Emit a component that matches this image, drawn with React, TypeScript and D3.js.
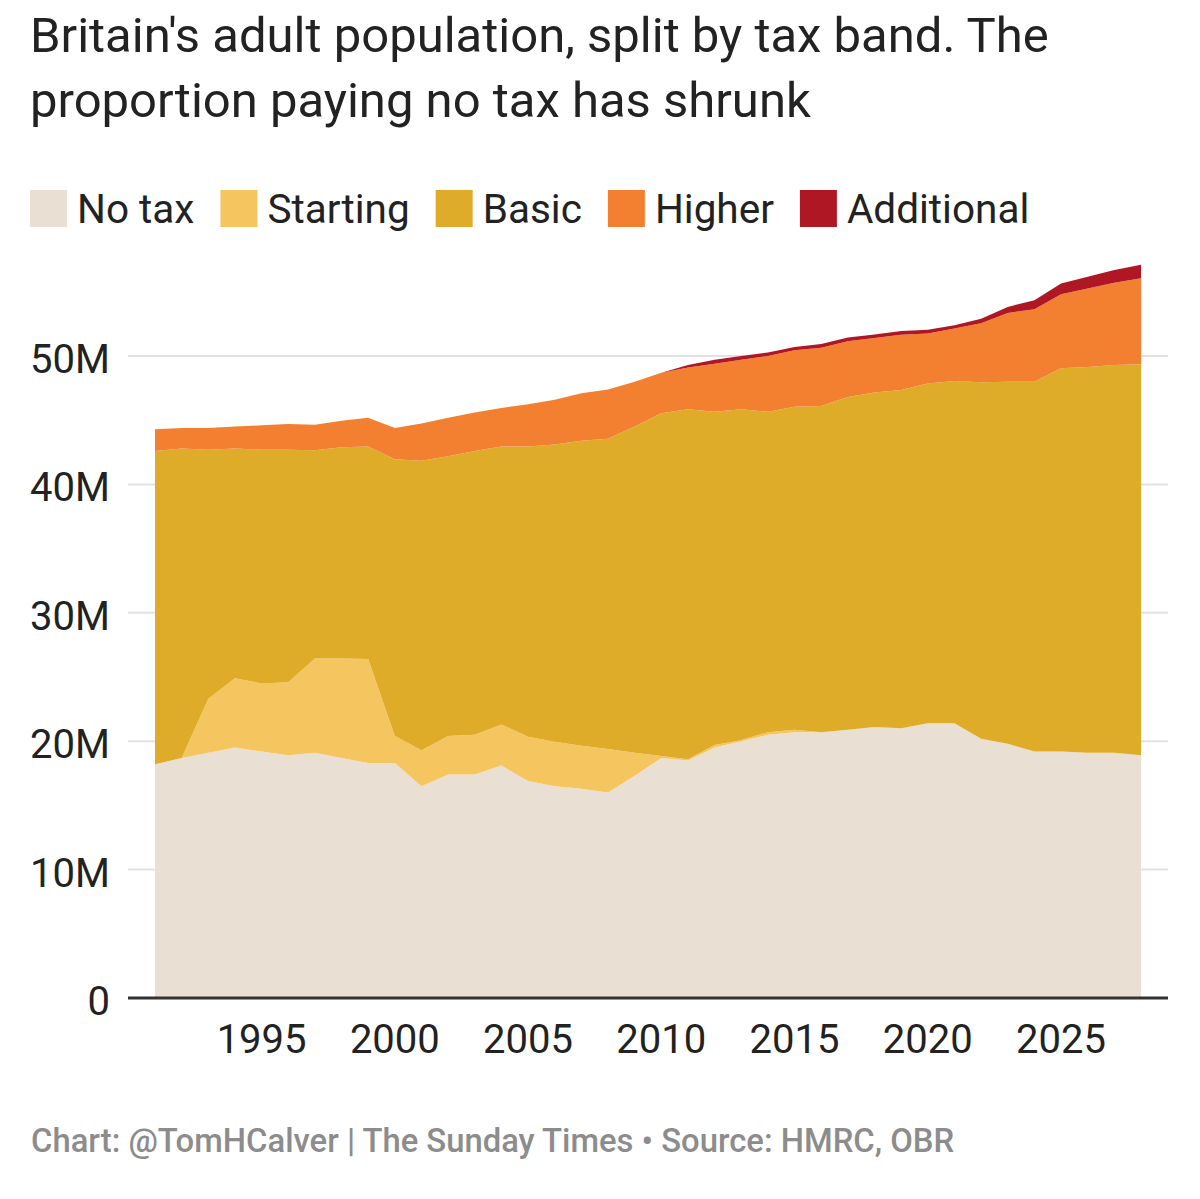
import * as d3 from 'd3';
import React, { useEffect, useRef } from 'react';

// Adult population by tax band, millions
const years = [
  1991, 1992, 1993, 1994, 1995, 1996, 1997, 1998, 1999, 2000, 2001, 2002, 2003, 2004, 2005, 2006,
  2007, 2008, 2009, 2010, 2011, 2012, 2013, 2014, 2015, 2016, 2017, 2018, 2019, 2020, 2021, 2022,
  2023, 2024, 2025, 2026, 2027, 2028,
];

const noTax = [
  18.2, 18.7, 19.1, 19.5, 19.2, 18.9, 19.1, 18.7, 18.3, 18.3, 16.5, 17.4, 17.4, 18.1, 16.9, 16.5,
  16.3, 16.0, 17.3, 18.7, 18.5, 19.5, 20.0, 20.5, 20.7, 20.7, 20.9, 21.1, 21.0, 21.4, 21.4, 20.2,
  19.8, 19.2, 19.2, 19.1, 19.1, 18.9,
];

const starting = [
  0, 0, 4.2, 5.4, 5.3, 5.7, 7.35, 7.75, 8.1, 2.1, 2.8, 3.0, 3.1, 3.2, 3.45, 3.45, 3.35, 3.4, 1.8,
  0.15, 0.1, 0.2, 0.1, 0.2, 0.2, 0, 0, 0, 0, 0, 0, 0, 0, 0, 0, 0, 0, 0,
];

const basic = [
  24.4, 24.1, 19.4, 17.9, 18.2, 18.1, 16.2, 16.45, 16.55, 21.55, 22.55, 21.8, 22.1, 21.65, 22.6,
  23.15, 23.75, 24.15, 25.4, 26.7, 27.25, 25.95, 25.75, 24.95, 25.15, 25.4, 25.9, 26.05, 26.35,
  26.45, 26.65, 27.75, 28.2, 28.8, 29.85, 30.05, 30.2, 30.45,
];

const higher = [
  1.7, 1.6, 1.7, 1.7, 1.9, 2.0, 2.0, 2.05, 2.25, 2.45, 2.9, 3.0, 3.0, 3.0, 3.3, 3.5, 3.7, 3.85,
  3.5, 3.15, 3.25, 3.75, 3.85, 4.35, 4.4, 4.55, 4.35, 4.25, 4.3, 3.9, 4.1, 4.6, 5.35, 5.65, 5.75,
  6.1, 6.4, 6.7,
];

const additional = [
  0, 0, 0, 0, 0, 0, 0, 0, 0, 0, 0, 0, 0, 0, 0, 0, 0, 0, 0, 0, 0.2, 0.3, 0.3, 0.28, 0.25, 0.28,
  0.3, 0.27, 0.3, 0.3, 0.25, 0.35, 0.47, 0.7, 0.85, 0.93, 1.0, 1.05,
];

const bandKeys = ['noTax', 'starting', 'basic', 'higher', 'additional'];
const bandLabels = ['No tax', 'Starting', 'Basic', 'Higher', 'Additional'];
const bandColors = ['#e9dfd2', '#f5c55f', '#dfac2a', '#f28030', '#af1724'];

const yTicks = [0, 10, 20, 30, 40, 50];
const xTicks = [1995, 2000, 2005, 2010, 2015, 2020, 2025];

const titleLines = [
  "Britain's adult population, split by tax band. The",
  'proportion paying no tax has shrunk',
];
const footer = 'Chart: @TomHCalver | The Sunday Times \u2022 Source: HMRC, OBR';

const width = 1200;
const height = 1199;
const font = 'Roboto, "Noto Sans", sans-serif';

const App: React.FC = () => {
  const svgRef = useRef<SVGSVGElement | null>(null);

  useEffect(() => {
    if (!svgRef.current) return;
    const svg = d3.select(svgRef.current);
    svg.selectAll('*').remove();

    const rows = years.map((year, i) => ({
      year,
      noTax: noTax[i],
      starting: starting[i],
      basic: basic[i],
      higher: higher[i],
      additional: additional[i],
    }));

    const x = d3.scaleLinear().domain([1991, 2028]).range([155, 1141]);
    const y = d3.scaleLinear().domain([0, 50]).range([998, 356]);

    // Title
    svg
      .append('g')
      .selectAll('text')
      .data(titleLines)
      .enter()
      .append('text')
      .attr('x', 30)
      .attr('y', (d, i) => 52 + i * 65)
      .style('font-family', font)
      .style('font-size', '49px')
      .style('fill', '#222')
      .text((d) => d);

    // Legend
    const legend = svg.append('g');
    let lx = 30;
    bandLabels.forEach((label, i) => {
      legend
        .append('rect')
        .attr('x', lx)
        .attr('y', 190)
        .attr('width', 37)
        .attr('height', 37)
        .attr('fill', bandColors[i]);
      const t = legend
        .append('text')
        .attr('x', lx + 47)
        .attr('y', 223)
        .style('font-family', font)
        .style('font-size', '40.5px')
        .style('fill', '#222')
        .text(label);
      const w = (t.node() as SVGTextElement).getComputedTextLength();
      lx += 47 + w + 26;
    });

    // Grid lines
    svg
      .append('g')
      .selectAll('line')
      .data(yTicks.filter((d) => d > 0))
      .enter()
      .append('line')
      .attr('x1', 128)
      .attr('x2', 1168)
      .attr('y1', (d) => y(d))
      .attr('y2', (d) => y(d))
      .attr('stroke', '#e2e2e2')
      .attr('stroke-width', 2);

    // Stacked areas
    const stack = d3.stack<any>().keys(bandKeys);
    const series = stack(rows);
    const area = d3
      .area<any>()
      .x((d) => x(d.data.year))
      .y0((d) => y(d[0]))
      .y1((d) => y(d[1]));

    svg
      .append('g')
      .selectAll('path')
      .data(series)
      .enter()
      .append('path')
      .attr('d', area)
      .attr('fill', (d, i) => bandColors[i]);

    // Baseline
    svg
      .append('line')
      .attr('x1', 128)
      .attr('x2', 1168)
      .attr('y1', y(0))
      .attr('y2', y(0))
      .attr('stroke', '#333')
      .attr('stroke-width', 3);

    // Y labels
    svg
      .append('g')
      .selectAll('text')
      .data(yTicks)
      .enter()
      .append('text')
      .attr('x', 110)
      .attr('y', (d) => y(d) + 17)
      .attr('text-anchor', 'end')
      .style('font-family', font)
      .style('font-size', '40px')
      .style('fill', '#222')
      .text((d) => (d === 0 ? '0' : `${d}M`));

    // X labels
    svg
      .append('g')
      .selectAll('text')
      .data(xTicks)
      .enter()
      .append('text')
      .attr('x', (d) => x(d))
      .attr('y', 1053)
      .attr('text-anchor', 'middle')
      .style('font-family', font)
      .style('font-size', '40px')
      .style('fill', '#222')
      .text((d) => String(d));

    // Footer
    svg
      .append('text')
      .attr('x', 31)
      .attr('y', 1152)
      .style('font-family', font)
      .style('font-size', '32.8px')
      .style('font-weight', 500)
      .style('fill', '#8c8c8c')
      .text(footer);
  }, []);

  return (
    <div>
      <style>{'body{margin:0;background:#fff}'}</style>
      <svg ref={svgRef} width={width} height={height} style={{ display: 'block' }}></svg>
    </div>
  );
};

export default App;
